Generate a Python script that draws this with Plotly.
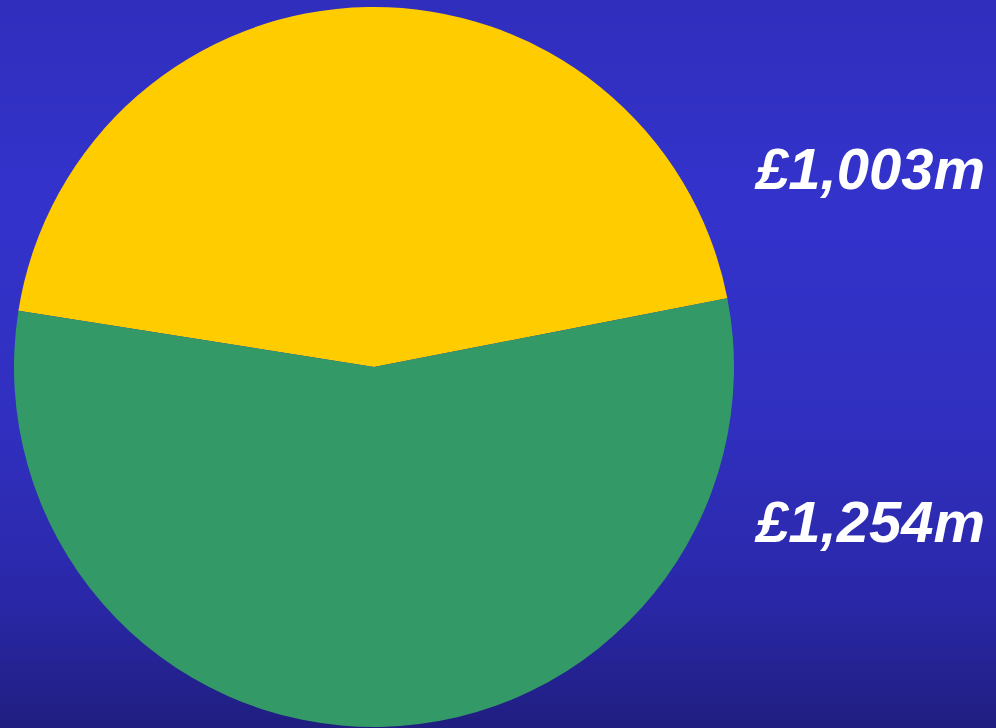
import plotly.graph_objects as go

# Two-part split of the total, in £ millions
labels = ["£1,003m", "£1,254m"]
values = [1003, 1254]
slice_colors = ["#FFCC00", "#339966"]

# Vertical background gradient stops (fraction from top, colour)
bg_stops = [(0.0, (0x30, 0x2E, 0xBC)), (0.28, (0x33, 0x33, 0xCC)),
            (0.6, (0x30, 0x2F, 0xBE)), (0.82, (0x2A, 0x28, 0xA8)),
            (1.0, (0x20, 0x1E, 0x80))]

W, H = 996, 728


def grad_color(t):
    for (t0, c0), (t1, c1) in zip(bg_stops, bg_stops[1:]):
        if t0 <= t <= t1:
            f = (t - t0) / (t1 - t0) if t1 > t0 else 0
            return "rgb(%d,%d,%d)" % tuple(round(a + (b - a) * f) for a, b in zip(c0, c1))
    return "rgb(%d,%d,%d)" % bg_stops[-1][1]


fig = go.Figure()
fig.add_trace(go.Pie(
    labels=labels,
    values=values,
    marker=dict(colors=slice_colors, line=dict(width=0)),
    sort=False,
    direction="clockwise",
    rotation=-81,
    textinfo="none",
    hoverinfo="label+value",
    showlegend=False,
    domain=dict(x=[14 / W, 734 / W], y=[1 - 727 / H, 1 - 7 / H]),
))

# Gradient background built from thin horizontal bands
n = 91
shapes = []
for i in range(n):
    y0 = 1 - i / n
    y1 = 1 - (i + 1) / n
    shapes.append(dict(type="rect", xref="paper", yref="paper", x0=0, x1=1,
                       y0=y1, y1=y0 + 0.002, fillcolor=grad_color((i + 0.5) / n),
                       line=dict(width=0), layer="below"))

label_y = [168, 521]
annotations = []
for lab, yy in zip(labels, label_y):
    annotations.append(dict(
        text=lab, xref="paper", yref="paper", x=752 / W, y=1 - yy / H,
        xanchor="left", yanchor="middle", showarrow=False,
        font=dict(family="Liberation Sans, Arial, sans-serif", size=58,
                  color="white", weight="bold", style="italic"),
    ))

fig.update_layout(
    width=W, height=H,
    margin=dict(l=0, r=0, t=0, b=0),
    paper_bgcolor="#2C2AB4",
    plot_bgcolor="#2C2AB4",
    shapes=shapes,
    annotations=annotations,
)

fig.write_html("out.html")
